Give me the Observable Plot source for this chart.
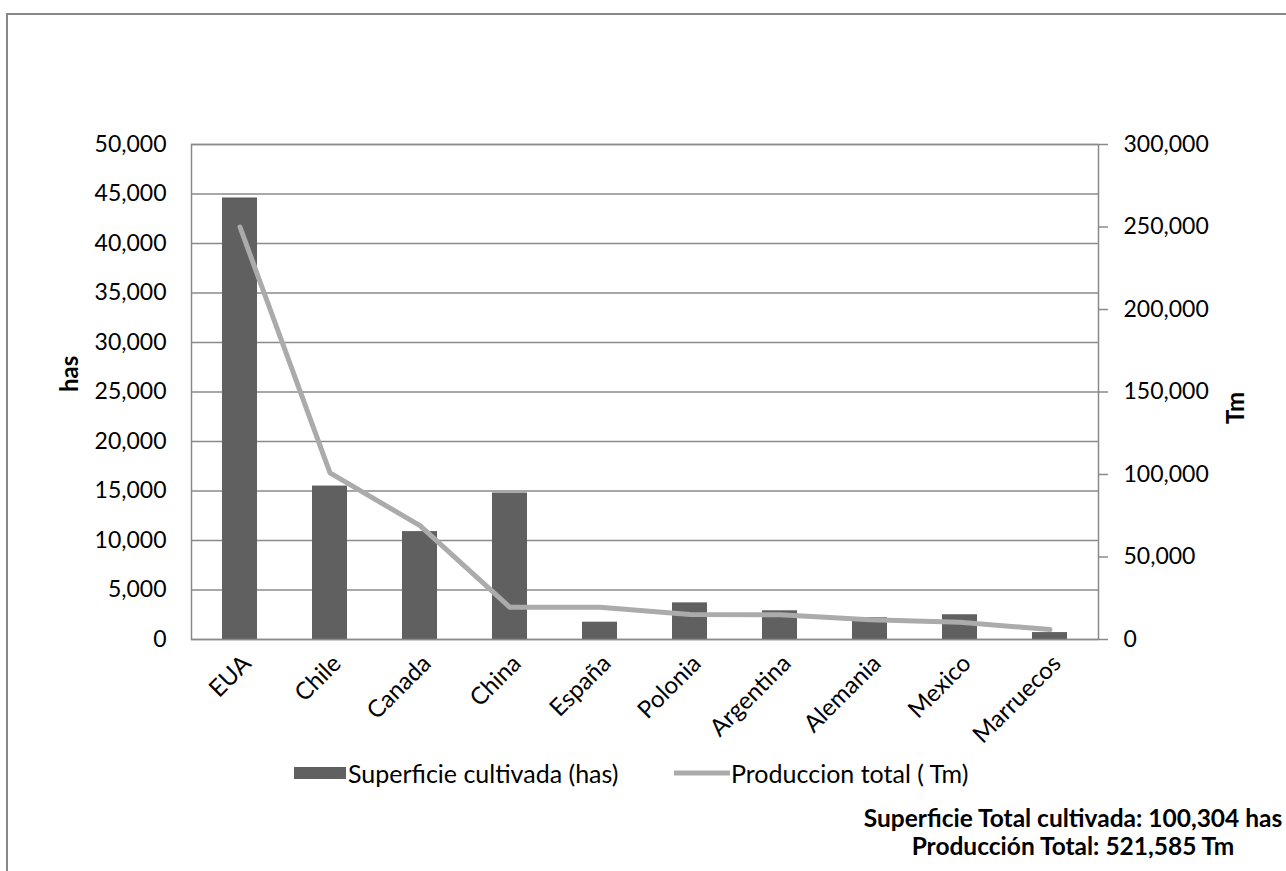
<!DOCTYPE html>
<html>
<head>
<meta charset="utf-8">
<script src="https://cdn.jsdelivr.net/npm/d3@7"></script>
<script src="https://cdn.jsdelivr.net/npm/@observablehq/plot@0.6"></script>
<style>
  html, body { margin: 0; padding: 0; background: #fff; }
  body { width: 1286px; height: 871px; position: relative; overflow: hidden; font-family: Lato, "Open Sans", sans-serif; }
  #frame { position: absolute; left: 6px; top: 13px; width: 1300px; height: 900px; border-left: 2px solid #888; border-top: 2px solid #888; }
  #chart { position: absolute; left: 0; top: 0; }
  .leg { position: absolute; top: 760px; font-size: 25px; color: #000; white-space: nowrap; line-height: 26px; }
  .foot { position: absolute; width: 500px; left: 823px; text-align: center; font-weight: bold; font-size: 24.5px; line-height: 29px; color: #000; white-space: nowrap; }
</style>
</head>
<body>
<div id="frame"></div>
<div id="chart"></div>
<div class="leg" style="left:294px;"><svg width="52" height="26" style="vertical-align:top"><rect x="0" y="7" width="52" height="12" fill="#606060"></rect></svg></div>
<div class="leg" style="left:348px;">Superficie cultivada (has)</div>
<div class="leg" style="left:674px;"><svg width="56" height="26" style="vertical-align:top"><line x1="0" y1="13" x2="56" y2="13" stroke="#ababab" stroke-width="5"></line></svg></div>
<div class="leg" style="left:731px;">Produccion total ( Tm)</div>
<div class="foot" style="top:803px;">Superficie Total cultivada: 100,304 has</div>
<div class="foot" style="top:831px;">Producción Total: 521,585 Tm</div>
<script>
// Data
const countries = ["EUA", "Chile", "Canada", "China", "España", "Polonia", "Argentina", "Alemania", "Mexico", "Marruecos"];
const superficie = [44600, 15500, 10900, 14800, 1750, 3700, 2900, 2200, 2500, 700];
const produccion = [250000, 101000, 69000, 19500, 19500, 15200, 15000, 12000, 10500, 6000];
const hasTicks = [0, 5000, 10000, 15000, 20000, 25000, 30000, 35000, 40000, 45000, 50000];
const tmTicks = [0, 50000, 100000, 150000, 200000, 250000, 300000];
const leftMax = 50000, rightMax = 300000;

const ratio = rightMax / leftMax;
const rows = countries.map((c, i) => ({country: c, has: superficie[i], tm: produccion[i], tmScaled: produccion[i] / ratio}));
const fmt = d => Math.round(d).toLocaleString("en-US");
const grid = "#8a8a8a";

const chart = Plot.plot({
  width: 1286,
  height: 871,
  marginLeft: 191,
  marginRight: 188,
  marginTop: 144,
  marginBottom: 232,
  style: {fontFamily: "Lato, 'Open Sans', sans-serif", fontSize: "23px", color: "#000", background: "transparent"},
  x: {domain: countries, paddingInner: 0.61, paddingOuter: 0.305, label: null},
  y: {domain: [0, leftMax], label: null},
  marks: [
    Plot.gridY(hasTicks, {stroke: grid, strokeOpacity: 1, strokeWidth: 1.3}),
    Plot.barY(rows, {x: "country", y: "has", fill: "#606060"}),
    Plot.frame({stroke: grid, strokeWidth: 1.5}),
    Plot.lineY(rows, {x: "country", y: "tmScaled", stroke: "#ababab", strokeWidth: 5, strokeLinecap: "round", strokeLinejoin: "round"}),
    Plot.axisY(hasTicks, {anchor: "left", tickSize: 0, tickPadding: 25, tickFormat: fmt, label: null, fill: "#000", fontSize: 23}),
    Plot.axisY(tmTicks.map(t => t / ratio), {anchor: "right", tickSize: 9, tickPadding: 16, stroke: grid, strokeWidth: 1.5, tickFormat: d => fmt(d * ratio), label: null, fill: "#000", fontSize: 23}),
    Plot.axisX({anchor: "bottom", tickSize: 0, tickPadding: 20, tickRotate: -45, dx: 7, label: null, fill: "#000", fontSize: 24}),
    Plot.text(["has"], {frameAnchor: "left", dx: -121, rotate: -90, fontWeight: "bold", fontSize: 24, fill: "#000"}),
    Plot.text(["Tm"], {frameAnchor: "right", dx: 138, rotate: -90, fontWeight: "bold", fontSize: 24, fill: "#000"})
  ]
});
document.getElementById("chart").appendChild(chart);
</script>
</body>
</html>
